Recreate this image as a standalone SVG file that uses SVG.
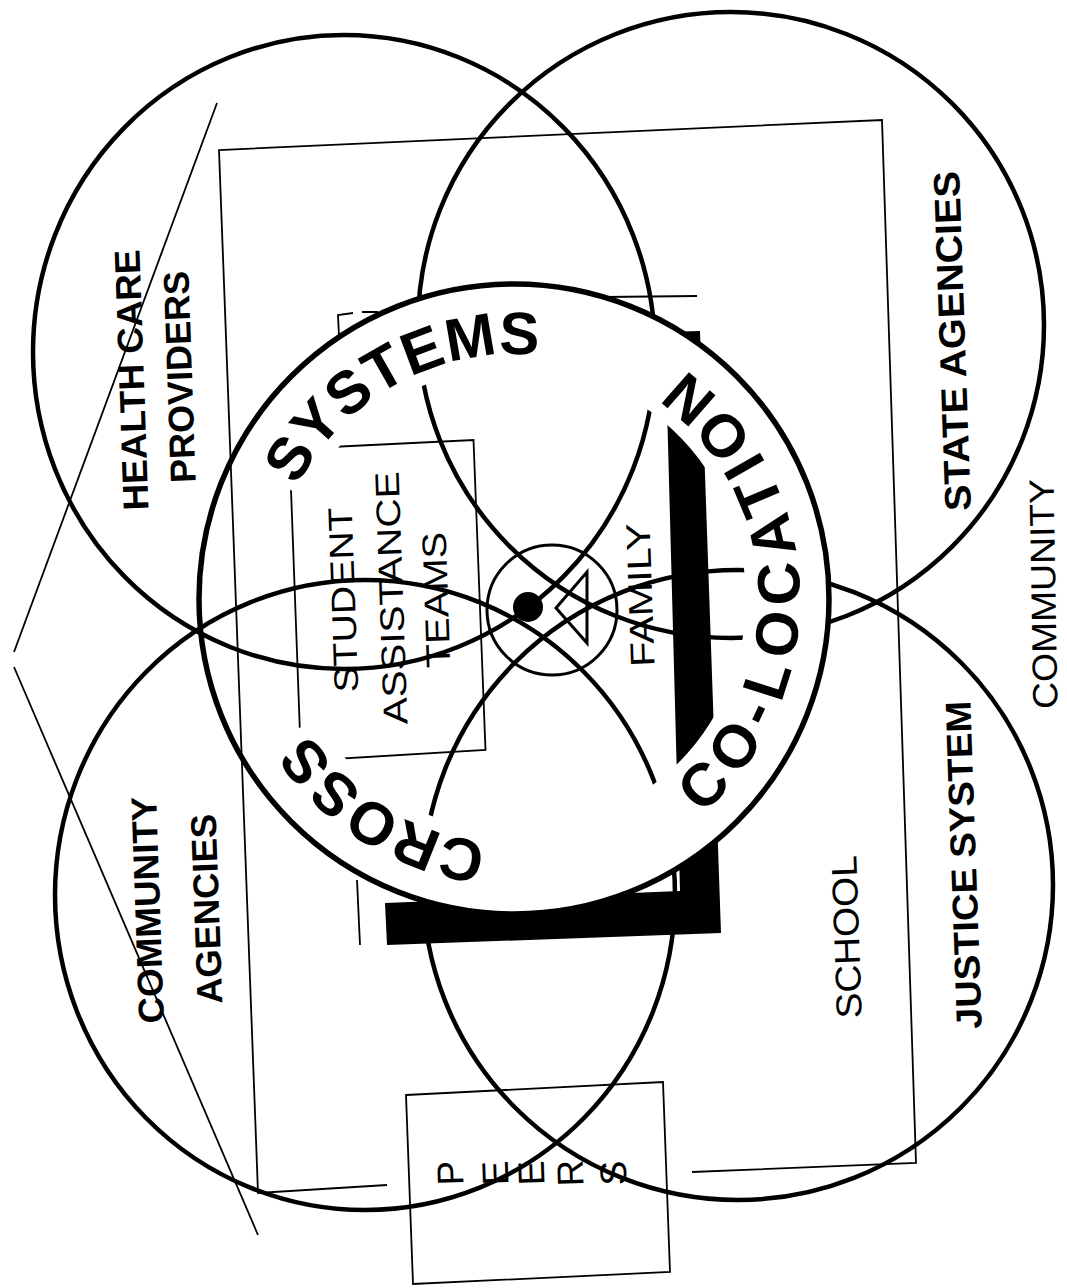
<svg xmlns="http://www.w3.org/2000/svg" width="1067" height="1288" viewBox="0 0 1067 1288">
<style>
.ring{fill:none;stroke:#000;stroke-width:4.5}
.thin{fill:none;stroke:#000;stroke-width:1.8}
.bold{font-family:"Liberation Sans",Arial,sans-serif;font-weight:bold;font-size:36px;fill:#000}
.reg{font-family:"Liberation Sans",Arial,sans-serif;font-weight:normal;font-size:36px;fill:#000}
.arc{font-family:"Liberation Sans",Arial,sans-serif;font-weight:bold;font-size:60px;fill:#000}
.peer{font-family:"Liberation Sans",Arial,sans-serif;font-size:37px;fill:#000}
</style>
<defs>
<path id="arcCW" d="M486.7 842.5 A245 245 0 1 1 577.4 362.3"/>
<path id="arcCCW" d="M702.3 814.3 A286 286 0 0 0 657 351.3"/>
</defs>
<rect width="1067" height="1288" fill="#fff"/>

<g id="school">
<path class="thin" d="M387 1185 L258 1193 L219 150 L882 120 L916 1163 L692 1172"/>
<text class="reg" transform="translate(846,937) rotate(-92)" y="13" text-anchor="middle" textLength="163" lengthAdjust="spacingAndGlyphs">SCHOOL</text>
</g>

<g id="peers">
<path class="thin" d="M406 1095 L663 1082 L670 1272 L413 1284 Z"/>
<text class="peer" transform="translate(450,1173) rotate(-92)" y="13" text-anchor="middle">P</text>
<text class="peer" transform="translate(495,1173) rotate(-92)" y="13" text-anchor="middle">E</text>
<text class="peer" transform="translate(531,1173) rotate(-92)" y="13" text-anchor="middle">E</text>
<text class="peer" transform="translate(570,1173) rotate(-92)" y="13" text-anchor="middle">R</text>
<text class="peer" transform="translate(613,1173) rotate(-92)" y="13" text-anchor="middle">S</text>
</g>

<g id="connectors">
<path class="thin" d="M217 103 L14 652"/>
<path class="thin" d="M14 667 L258 1235"/>
</g>

<g id="health-care-providers">
<ellipse class="ring" cx="344" cy="352" rx="311" ry="317"/>
<text class="bold" transform="translate(131,380) rotate(-92)" y="13" text-anchor="middle" textLength="261" lengthAdjust="spacingAndGlyphs">HEALTH CARE</text>
<text class="bold" transform="translate(179,377) rotate(-92)" y="13" text-anchor="middle" textLength="212" lengthAdjust="spacingAndGlyphs">PROVIDERS</text>
</g>

<g id="state-agencies">
<circle class="ring" cx="731" cy="325" r="313"/>
<text class="bold" style="font-size:37px" transform="translate(952,341) rotate(-92)" y="13" text-anchor="middle" textLength="340" lengthAdjust="spacingAndGlyphs">STATE AGENCIES</text>
</g>

<g id="community-agencies">
<ellipse class="ring" cx="365" cy="895" rx="310" ry="315"/>
<text class="bold" transform="translate(147,910) rotate(-92)" y="13" text-anchor="middle" textLength="227" lengthAdjust="spacingAndGlyphs">COMMUNITY</text>
<text class="bold" transform="translate(206,909) rotate(-92)" y="13" text-anchor="middle" textLength="190" lengthAdjust="spacingAndGlyphs">AGENCIES</text>
</g>

<g id="justice-system">
<circle class="ring" cx="738" cy="885" r="315"/>
<text class="bold" transform="translate(963,865) rotate(-92)" y="13" text-anchor="middle" textLength="328" lengthAdjust="spacingAndGlyphs">JUSTICE SYSTEM</text>
</g>

<g id="community">
<text class="reg" style="font-size:35px" transform="translate(1043,594) rotate(-91)" y="12.5" text-anchor="middle" textLength="230" lengthAdjust="spacingAndGlyphs">COMMUNITY</text>
</g>

<g id="family-frame">
<path d="M665 332 L700 331 L721 933 L387 945 L385 903 L680 891 Z" fill="#000"/>
<path class="thin" d="M339 337 L338 315 L353 313 M362 312 L378 312 M604 297 L697 296 M357 880 L360 945"/>
</g>

<g id="student-assistance-teams">
<path class="thin" d="M289.5 449 L473.5 440 L485.5 750 L301 761 Z"/>
<text class="reg" style="font-size:34px" transform="translate(343,600) rotate(-92)" y="12" text-anchor="middle" textLength="185" lengthAdjust="spacingAndGlyphs">STUDENT</text>
<text class="reg" style="font-size:34px" transform="translate(391,598) rotate(-92)" y="12" text-anchor="middle" textLength="253" lengthAdjust="spacingAndGlyphs">ASSISTANCE</text>
<text class="reg" style="font-size:34px" transform="translate(436,600) rotate(-92)" y="12" text-anchor="middle" textLength="136" lengthAdjust="spacingAndGlyphs">TEAMS</text>
</g>

<g id="cross-systems-co-location">
<path d="M230 460.5 A316 316 0 1 1 243.1 761.7 L315.1 718.5 A232 232 0 1 0 305.5 497.3 Z" fill="#fff"/>
<circle cx="514" cy="599" r="315" fill="none" stroke="#000" stroke-width="5.5"/>
<text class="arc"><textPath href="#arcCW" startOffset="0" textLength="215" lengthAdjust="spacing">CROSS</textPath></text>
<text class="arc"><textPath href="#arcCW" startOffset="474" textLength="292" lengthAdjust="spacing">SYSTEMS</textPath></text>
<text class="arc"><textPath href="#arcCCW" startOffset="0" textLength="509" lengthAdjust="spacing">CO-LOCATION</textPath></text>
</g>

<g id="family">
<circle cx="552" cy="610" r="65" fill="none" stroke="#000" stroke-width="3"/>
<circle cx="528" cy="607" r="15" fill="#000"/>
<path d="M587 572 L587 643 L556 608 Z" fill="none" stroke="#000" stroke-width="3"/>
<text class="reg" style="font-size:34px" transform="translate(640,595) rotate(-92)" y="12" text-anchor="middle" textLength="144" lengthAdjust="spacingAndGlyphs">FAMILY</text>
</g>
</svg>
